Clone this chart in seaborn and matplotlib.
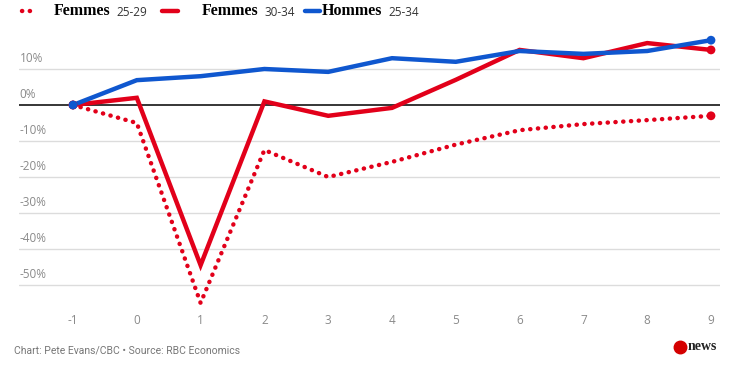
import pandas as pd
import seaborn as sns
import matplotlib.pyplot as plt
import matplotlib.transforms as mtransforms

years = [-1, 0, 1, 2, 3, 4, 5, 6, 7, 8, 9]
femmes_25_29 = [0, -5, -55, -12.5, -20, -15.8, -11, -7, -5.3, -4.2, -3]
femmes_30_34 = [0, 2, -44.5, 1, -3, -0.8, 7, 15.3, 13, 17.2, 15.3]
hommes_25_34 = [0, 6.9, 8, 10, 9.2, 13, 12, 15, 14.2, 15, 18]
y_ticks = [10, 0, -10, -20, -30, -40, -50]

RED = "#e2001a"
BLUE = "#0f57cf"
GRAY = "#8a8a8a"

df = pd.DataFrame({
    "annee": years * 3,
    "valeur": femmes_25_29 + femmes_30_34 + hommes_25_34,
    "serie": ["f2529"] * 11 + ["f3034"] * 11 + ["h2534"] * 11,
})

sns.set_theme(style="white")
plt.rcParams["font.family"] = ["Open Sans", "DejaVu Sans"]

fig = plt.figure(figsize=(7.47, 3.66), dpi=100)
W, H = 747, 366
ax = fig.add_axes([19 / W, 1 - 295 / H, (720 - 19) / W, (295 - 30) / H])

ax.set_xlim(-1 - 54 / 63.8, 9 + 9 / 63.8)
ax.set_ylim(-(295 - 105) / 3.6, (105 - 30) / 3.6)

# grid lines and y labels above them
for t in y_ticks:
    if t == 0:
        ax.axhline(0, color="black", lw=1.1, zorder=1)
    else:
        ax.axhline(t, color="#dcdcdc", lw=1, zorder=0)
    ax.text(0.001, t + 1.1, f"{t}%", transform=mtransforms.blended_transform_factory(ax.transAxes, ax.transData),
            ha="left", va="bottom", fontsize=8.5, color=GRAY)

styles = {"f2529": (RED, (0, (0.05, 1.7))), "f3034": (RED, "-"), "h2534": (BLUE, "-")}
for key, (col, ls) in styles.items():
    sub = df[df["serie"] == key]
    sns.lineplot(data=sub, x="annee", y="valeur", ax=ax, color=col, lw=3.2,
                 linestyle=ls, dash_capstyle="round", solid_joinstyle="miter",
                 zorder=3, clip_on=False)
    ends = sub.iloc[[0, -1]]
    sns.scatterplot(data=ends, x="annee", y="valeur", ax=ax, color=col, s=40,
                    edgecolor="none", zorder=4, clip_on=False)

ax.set_xticks(years)
ax.set_xticklabels([str(y) for y in years], fontsize=8.5, color=GRAY)
ax.tick_params(axis="x", length=0, pad=14)
ax.set_yticks([])
ax.set_xlabel("")
ax.set_ylabel("")
sns.despine(ax=ax, left=True, bottom=True)

# legend drawn as text at the top
def fy(py):
    return 1 - py / H

fig.add_artist(plt.Line2D([22 / W, 34 / W], [fy(11), fy(11)], color=RED, lw=3.2,
                          linestyle=(0, (0.05, 1.7)), dash_capstyle="round"))
fig.add_artist(plt.Line2D([162 / W, 178 / W], [fy(11), fy(11)], color=RED, lw=3.2))
fig.add_artist(plt.Line2D([305 / W, 320 / W], [fy(11), fy(11)], color=BLUE, lw=3.2))
for px, bold, small in [(54, "Femmes", "25-29"), (202, "Femmes", "30-34"), (322, "Hommes", "25-34")]:
    t = fig.text(px / W, fy(11), bold, family=["Liberation Serif"], weight="bold",
                 fontsize=11.5, color="black", va="center", ha="left")
    fig.canvas.draw()
    bb = t.get_window_extent()
    fig.text((bb.x1 + 6) / W, fy(12), small, fontsize=8.5, color="#333333", va="center", ha="left")

fig.text(14 / W, fy(350), "Chart: Pete Evans/CBC \u2022 Source: RBC Economics",
         family=["Liberation Sans Narrow", "Roboto", "DejaVu Sans"], fontsize=7.5, color="#777777",
         va="center", ha="left")
fig.add_artist(plt.Line2D([680 / W], [fy(347)], marker="o", markersize=9, color="#d40000"))
fig.text(688 / W, fy(347), "news", family=["Liberation Serif"], weight="bold",
         fontsize=10, color="#222222", va="center", ha="left")

fig.savefig("out.png", dpi=100)
